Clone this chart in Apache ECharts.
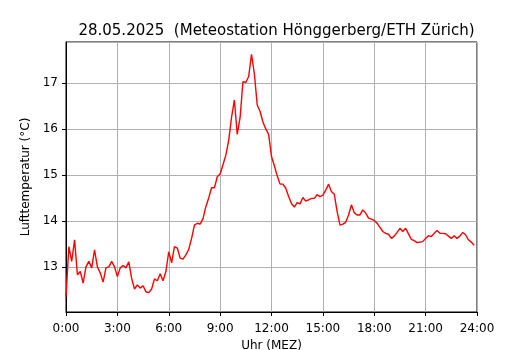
<!DOCTYPE html>
<html>
<head>
<meta charset="utf-8">
<script src="https://cdn.jsdelivr.net/npm/echarts@6/dist/echarts.min.js"></script>
<style>
  html, body { margin: 0; padding: 0; background: #fff; }
  #main { width: 530px; height: 350px; }
</style>
</head>
<body>
<div id="main"></div>
<script>
// Messwerte alle 10 Minuten, 0:00 bis 23:50
var stepMinutes = 10;
var temps = [
  12.35, 13.44, 13.12, 13.59, 12.83, 12.90, // 0:00
  12.65, 13.00, 13.12, 12.98, 13.37, 13.00, // 1:00
  12.87, 12.67, 12.98, 13.00, 13.12, 13.00, // 2:00
  12.79, 12.98, 13.03, 12.98, 13.11, 12.75, // 3:00
  12.52, 12.61, 12.54, 12.59, 12.46, 12.44, // 4:00
  12.52, 12.74, 12.70, 12.85, 12.70, 12.90, // 5:00
  13.33, 13.09, 13.44, 13.41, 13.19, 13.17, // 6:00
  13.26, 13.38, 13.62, 13.91, 13.95, 13.93, // 7:00
  14.05, 14.31, 14.50, 14.72, 14.72, 14.96, // 8:00
  15.02, 15.22, 15.43, 15.75, 16.25, 16.63, // 9:00
  15.88, 16.25, 17.03, 17.01, 17.14, 17.62, // 10:00
  17.20, 16.52, 16.38, 16.15, 16.00, 15.88, // 11:00
  15.40, 15.20, 14.98, 14.80, 14.80, 14.71, // 12:00
  14.53, 14.38, 14.30, 14.40, 14.37, 14.51, // 13:00
  14.43, 14.46, 14.49, 14.49, 14.57, 14.53, // 14:00
  14.56, 14.67, 14.80, 14.64, 14.58, 14.20, // 15:00
  13.91, 13.93, 13.97, 14.13, 14.35, 14.18, // 16:00
  14.13, 14.13, 14.24, 14.17, 14.06, 14.04, // 17:00
  14.01, 13.95, 13.86, 13.77, 13.73, 13.71, // 18:00
  13.62, 13.67, 13.75, 13.84, 13.77, 13.84, // 19:00
  13.72, 13.60, 13.57, 13.53, 13.54, 13.55, // 20:00
  13.62, 13.68, 13.66, 13.73, 13.79, 13.73, // 21:00
  13.73, 13.72, 13.67, 13.62, 13.68, 13.62, // 22:00
  13.67, 13.75, 13.70, 13.59, 13.54, 13.47  // 23:00
];
var hourTicks = [0, 3, 6, 9, 12, 15, 18, 21, 24];
var yMin = 12.02, yMax = 17.89;

var points = temps.map(function (t, i) {
  return [i * stepMinutes / 60, t];
});

var myChart = echarts.init(document.getElementById("main"));
myChart.setOption({
  backgroundColor: "#fff",
  animation: false,
  title: {
    text: "28.05.2025  (Meteostation Hönggerberg/ETH Zürich)",
    left: 271.5,
    textAlign: "center",
    top: 19,
    textStyle: {
      fontFamily: "DejaVu Sans",
      fontSize: 15,
      fontWeight: "normal",
      color: "#000"
    }
  },
  grid: {
    left: 66,
    right: 53,
    top: 42,
    bottom: 38,
    outerBoundsMode: "none",
    containLabel: false,
    show: true,
    borderColor: "#000",
    borderWidth: 1,
    backgroundColor: "transparent"
  },
  xAxis: {
    type: "value",
    min: 0,
    max: 24,
    interval: 3,
    name: "Uhr (MEZ)",
    nameLocation: "middle",
    nameGap: 28,
    nameTextStyle: { fontFamily: "DejaVu Sans", fontSize: 12, color: "#000" },
    axisLine: { show: true, lineStyle: { color: "#000", width: 1 } },
    axisTick: { show: true, length: 4, lineStyle: { color: "#000" } },
    axisLabel: {
      margin: 11,
      fontFamily: "DejaVu Sans",
      fontSize: 12,
      color: "#000",
      formatter: function (v) {
        return hourTicks.indexOf(v) >= 0 ? v + ":00" : "";
      }
    },
    splitLine: { show: true, lineStyle: { color: "#b0b0b0", width: 1 } }
  },
  yAxis: {
    type: "value",
    min: yMin,
    max: yMax,
    splitNumber: 5,
    name: "Lufttemperatur (°C)",
    nameLocation: "middle",
    nameGap: 34,
    nameTextStyle: { fontFamily: "DejaVu Sans", fontSize: 12, color: "#000" },
    axisLine: { show: true, lineStyle: { color: "#000", width: 1 } },
    axisTick: { show: true, length: 4, lineStyle: { color: "#000" } },
    axisLabel: {
      margin: 8,
      fontFamily: "DejaVu Sans",
      fontSize: 12,
      color: "#000",
      showMinLabel: false,
      showMaxLabel: false
    },
    splitLine: { show: true, lineStyle: { color: "#b0b0b0", width: 1 } }
  },
  series: [
    {
      type: "line",
      data: points,
      showSymbol: false,
      lineStyle: { color: "#ff0000", width: 1.4 },
      itemStyle: { color: "#ff0000" }
    }
  ]
});
</script>
</body>
</html>
